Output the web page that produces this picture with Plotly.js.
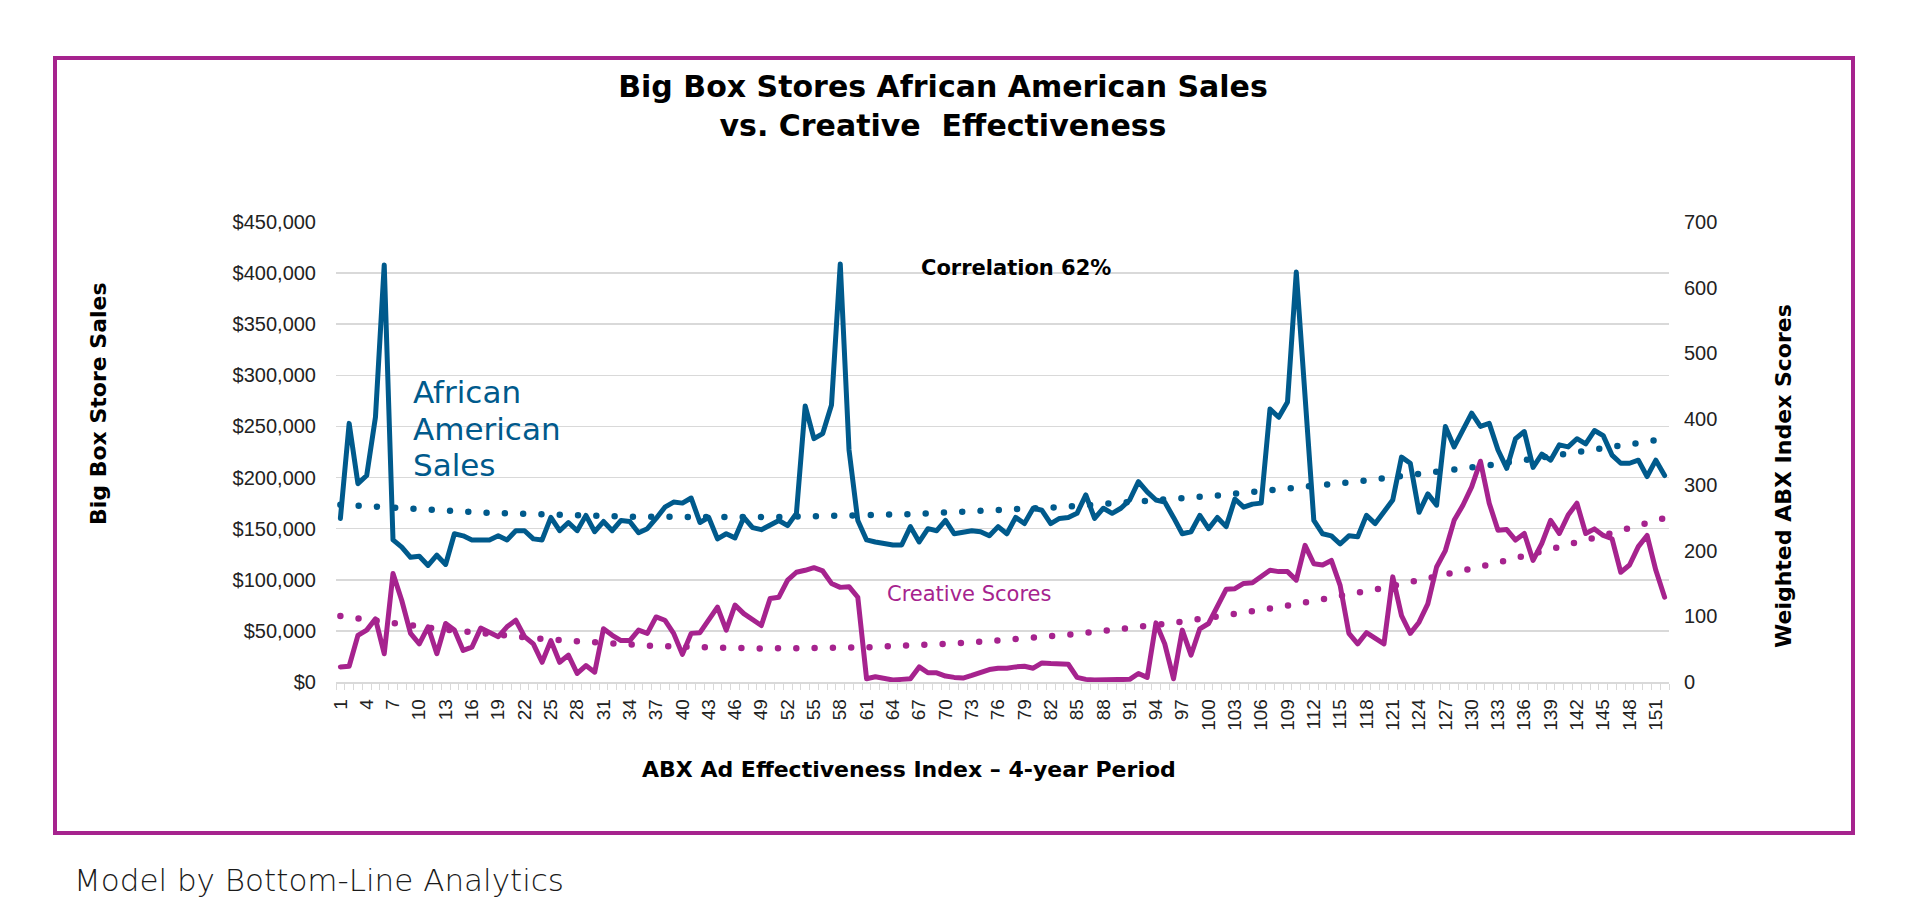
<!DOCTYPE html>
<html>
<head>
<meta charset="utf-8">
<script src="https://cdn.plot.ly/plotly-3.0.1.min.js"></script>
<style>
  html, body { margin: 0; padding: 0; background: #ffffff; }
  #chart { width: 1920px; height: 919px; }
  .js-line { stroke-linecap: round; stroke-linejoin: round; }
</style>
</head>
<body>
<div id="chart"></div>
<script>
// ---- Data ----
const periodCount = 152;
const periods = Array.from({length: periodCount}, (_, i) => i + 1);

const tickLabels = ['1','4','7','10','13','16','19','22','25','28','31','34','37','40','43','46','49','52','55','58','61','64','67','70','73','76','79','82','85','88','91','94','97','100','103','106','109','112','115','118','121','124','127','130','133','136','139','142','145','148','151'];

// African American sales ($), periods 1..152 (left axis)
const salesAA = [
  160000,253000,194000,202000,259000,408000,139000,132000,122000,123000,
  114000,124000,115000,145000,143000,139000,139000,139000,143000,139000,
  148000,148000,140000,139000,161000,148000,156000,148000,163000,147000,
  157000,148000,158000,157000,146000,150000,160000,171000,176000,175000,
  180000,156000,161000,140000,145000,141000,161000,151000,149000,153000,
  158000,153000,165000,270000,238000,243000,271000,409000,227000,158000,
  139000,137000,135000,134000,134000,152000,137000,150000,148000,158000,
  145000,147000,148000,147000,143000,152000,145000,161000,155000,170000,
  168000,155000,160000,161000,165000,183000,160000,170000,165000,170000,
  178000,196000,186000,178000,176000,161000,145000,147000,163000,150000,
  161000,152000,179000,171000,174000,175000,267000,259000,274000,401000,
  275000,158000,145000,143000,135000,143000,142000,163000,155000,166000,
  178000,220000,214000,166000,184000,173000,250000,230000,246000,263000,
  250000,253000,227000,209000,238000,245000,210000,223000,217000,232000,
  230000,238000,233000,246000,241000,222000,214000,214000,217000,201000,
  217000,202000
];

// Creative (weighted ABX index) scores, periods 1..152 (right axis)
const creativeScores = [
  23,24,71,79,96,43,165,124,74,58,
  84,43,89,79,48,53,82,76,69,84,
  94,69,58,30,63,30,41,13,25,15,
  81,71,63,63,79,74,99,94,74,42,
  74,75,94,114,79,117,104,96,86,127,
  129,155,167,170,174,169,150,144,145,129,
  5,8,5,3,4,5,23,14,14,9,
  7,6,10,15,19,21,21,23,24,21,
  29,28,28,27,7,4,3,3,4,4,
  4,13,7,90,58,5,79,41,81,89,
  115,141,142,150,151,160,170,168,168,155,
  208,180,178,185,147,74,58,75,66,58,
  160,101,74,91,119,175,200,246,269,297,
  336,272,231,232,216,226,185,211,246,226,
  254,272,226,233,223,218,167,178,206,223,
  170,129
];

const salesRange = [0, 450000];
const scoreRange = [0, 700];

// ---- Order-2 polynomial trendlines (least-squares fit of the series, as in the source) ----
function polyFit2(xs, ys) {
  let s = [0,0,0,0,0], t = [0,0,0];
  for (let i = 0; i < xs.length; i++) {
    const x = xs[i], y = ys[i];
    let p = 1;
    for (let k = 0; k < 5; k++) { s[k] += p; if (k < 3) t[k] += p * y; p *= x; }
  }
  const A = [[s[0],s[1],s[2],t[0]],[s[1],s[2],s[3],t[1]],[s[2],s[3],s[4],t[2]]];
  for (let c = 0; c < 3; c++) {
    for (let r = c + 1; r < 3; r++) {
      const f = A[r][c] / A[c][c];
      for (let k = c; k < 4; k++) A[r][k] -= f * A[c][k];
    }
  }
  const b = [0,0,0];
  for (let r = 2; r >= 0; r--) {
    let v = A[r][3];
    for (let k = r + 1; k < 3; k++) v -= A[r][k] * b[k];
    b[r] = v / A[r][r];
  }
  return xs.map(x => b[0] + b[1] * x + b[2] * x * x);
}
const salesTrend = polyFit2(periods, salesAA);
const scoreTrend = polyFit2(periods, creativeScores);

// ---- Layout helpers (pixel -> paper) ----
const W = 1920, H = 919;
const M = {l: 336, r: 251, t: 222, b: 237};
const PW = W - M.l - M.r, PH = H - M.t - M.b;
const px = x => (x - M.l) / PW;
const py = y => (H - M.b - y) / PH;

const BLUE = '#005A8C';
const MAGENTA = '#A6238E';
const GRID = '#d9d9d9';

const traces = [
  {
    x: periods, y: salesAA, type: 'scatter', mode: 'lines', name: 'African American Sales',
    line: {color: BLUE, width: 5}, yaxis: 'y', hoverinfo: 'x+y'
  },
  {
    x: periods, y: salesTrend, type: 'scatter', mode: 'lines', name: 'Sales trend',
    line: {color: BLUE, width: 6.5, dash: '0px,18.3px'}, yaxis: 'y', hoverinfo: 'skip'
  },
  {
    x: periods, y: creativeScores, type: 'scatter', mode: 'lines', name: 'Creative Scores',
    line: {color: MAGENTA, width: 5}, yaxis: 'y2', hoverinfo: 'x+y'
  },
  {
    x: periods, y: scoreTrend, type: 'scatter', mode: 'lines', name: 'Creative trend',
    line: {color: MAGENTA, width: 6.5, dash: '0px,18.3px'}, yaxis: 'y2', hoverinfo: 'skip'
  }
];

const HEAD_FONT = 'DejaVu Sans, Open Sans, sans-serif';
const TICK_FONT = 'Liberation Sans, Arial, sans-serif';

const layout = {
  width: W, height: H,
  margin: M,
  paper_bgcolor: '#ffffff', plot_bgcolor: '#ffffff',
  showlegend: false,
  title: {
    text: 'Big Box Stores African American Sales<br>vs. Creative  Effectiveness',
    font: {family: HEAD_FONT, size: 30, weight: 700, color: '#000000'},
    x: 943 / W, xanchor: 'center', xref: 'container',
    y: 1 - 97 / H, yanchor: 'middle', yref: 'container'
  },
  xaxis: {
    type: 'linear', range: [0.5, periodCount + 0.5],
    tickmode: 'array', tickvals: tickLabels.map(Number), ticktext: tickLabels,
    tickangle: -90, ticks: '',
    tickfont: {family: TICK_FONT, size: 19, color: '#222222'},
    ticklabelstandoff: 8,
    showgrid: false, zeroline: false,
    showline: true, linecolor: GRID, linewidth: 1.5,
    minor: {tickmode: 'linear', tick0: 0.5, dtick: 1, ticks: 'outside', ticklen: 6, tickcolor: GRID, tickwidth: 1, showgrid: false},
    fixedrange: true
  },
  yaxis: {
    range: salesRange, dtick: 50000, tickprefix: '$', tickformat: ',d',
    tickfont: {family: TICK_FONT, size: 20, color: '#222222'},
    showgrid: true, gridcolor: GRID, gridwidth: 1.5,
    zeroline: false, showline: false, ticks: '',
    ticklabelstandoff: 19,
    fixedrange: true
  },
  yaxis2: {
    range: scoreRange, dtick: 100, overlaying: 'y', side: 'right',
    tickfont: {family: TICK_FONT, size: 20, color: '#222222'},
    showgrid: false, zeroline: false, showline: false, ticks: '',
    ticklabelstandoff: 14,
    fixedrange: true
  },
  shapes: [
    {type: 'rect', xref: 'paper', yref: 'paper',
     x0: px(55), x1: px(1853), y0: py(833), y1: py(58),
     line: {color: MAGENTA, width: 4}, fillcolor: 'rgba(0,0,0,0)', layer: 'below'}
  ],
  annotations: [
    {text: '<b>Correlation 62%</b>', xref: 'paper', yref: 'paper', x: px(1016), y: py(268),
     showarrow: false, xanchor: 'center', yanchor: 'middle',
     font: {family: HEAD_FONT, size: 21, color: '#000000'}},
    {text: 'African', xref: 'paper', yref: 'paper', x: px(411), y: py(392),
     showarrow: false, xanchor: 'left', yanchor: 'middle', align: 'left',
     font: {family: HEAD_FONT, size: 31, color: BLUE}},
    {text: 'American', xref: 'paper', yref: 'paper', x: px(411), y: py(429),
     showarrow: false, xanchor: 'left', yanchor: 'middle', align: 'left',
     font: {family: HEAD_FONT, size: 31, color: BLUE}},
    {text: 'Sales', xref: 'paper', yref: 'paper', x: px(411), y: py(465),
     showarrow: false, xanchor: 'left', yanchor: 'middle', align: 'left',
     font: {family: HEAD_FONT, size: 31, color: BLUE}},
    {text: 'Creative Scores', xref: 'paper', yref: 'paper', x: px(969), y: py(594),
     showarrow: false, xanchor: 'center', yanchor: 'middle',
     font: {family: HEAD_FONT, size: 21, color: MAGENTA}},
    {text: '<b>Big Box Store Sales</b>', xref: 'paper', yref: 'paper', x: px(98), y: py(404),
     showarrow: false, xanchor: 'center', yanchor: 'middle', textangle: -90,
     font: {family: HEAD_FONT, size: 22, color: '#000000'}},
    {text: '<b>Weighted ABX Index Scores</b>', xref: 'paper', yref: 'paper', x: px(1783), y: py(476),
     showarrow: false, xanchor: 'center', yanchor: 'middle', textangle: -90,
     font: {family: HEAD_FONT, size: 22, color: '#000000'}},
    {text: '<b>ABX Ad Effectiveness Index \u2013 4-year Period</b>', xref: 'paper', yref: 'paper', x: px(909), y: py(769),
     showarrow: false, xanchor: 'center', yanchor: 'middle',
     font: {family: HEAD_FONT, size: 22, color: '#000000'}},
    {text: 'Model by Bottom-Line Analytics', xref: 'paper', yref: 'paper', x: px(72), y: py(880),
     showarrow: false, xanchor: 'left', yanchor: 'middle',
     font: {family: HEAD_FONT, size: 31, weight: 300, color: '#1a1a1a'}}
  ]
};

Plotly.newPlot('chart', traces, layout, {displayModeBar: false, staticPlot: true});
</script>
</body>
</html>
